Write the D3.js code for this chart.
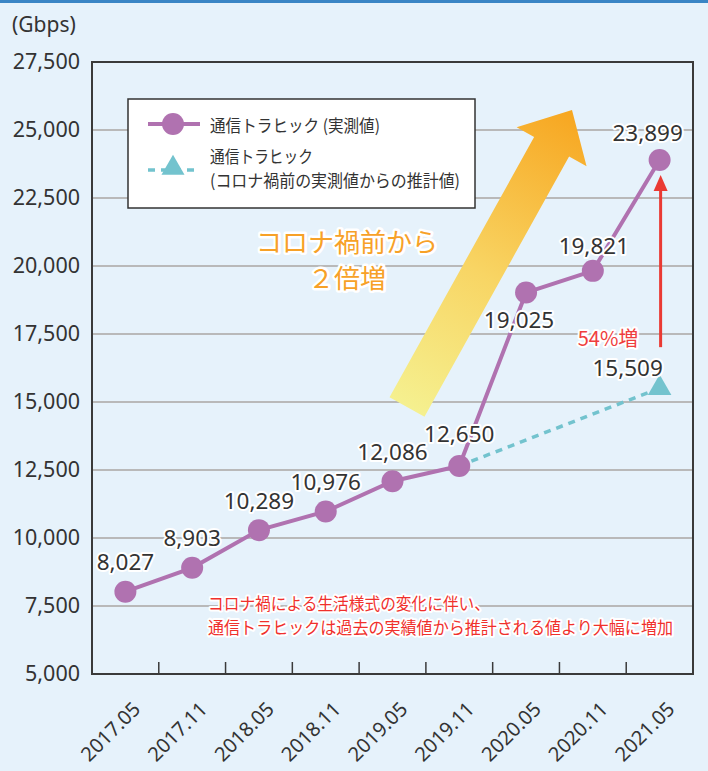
<!DOCTYPE html>
<html>
<head>
<meta charset="utf-8">
<script src="https://cdn.jsdelivr.net/npm/d3@7"></script>
<style>
  body { margin: 0; background: #e6f2fb; }
  svg { display: block; }
  text { font-family: "Noto Sans", "Noto Sans CJK JP", sans-serif; }
  .jp { font-family: "Noto Sans CJK JP", sans-serif; }
</style>
</head>
<body>
<script>
// data
const periods = ["2017.05", "2017.11", "2018.05", "2018.11", "2019.05", "2019.11", "2020.05", "2020.11", "2021.05"];
const measured = [8027, 8903, 10289, 10976, 12086, 12650, 19025, 19821, 23899];
const estPeriods = ["2019.11", "2021.05"];
const estimated = [12650, 15509];
const yTicks = [5000, 7500, 10000, 12500, 15000, 17500, 20000, 22500, 25000, 27500];

const W = 708, H = 771;
const plotL = 92, plotR = 693, plotT = 62, plotB = 674;

const purple = "#b072b0";
const teal = "#73c3ce";
const red = "#ea3a33";
const ink = "#333";

const svg = d3.select("body").append("svg")
    .attr("width", W)
    .attr("height", H);

const defs = svg.append("defs");
const grad = defs.append("linearGradient")
    .attr("id", "bigArrow")
    .attr("gradientUnits", "userSpaceOnUse")
    .attr("x1", 407).attr("y1", 407)
    .attr("x2", 572).attr("y2", 110);
grad.append("stop").attr("offset", 0).attr("stop-color", "#f5f08f");
grad.append("stop").attr("offset", 0.45).attr("stop-color", "#f8d564");
grad.append("stop").attr("offset", 1).attr("stop-color", "#f7a620");

// top bar
svg.append("rect").attr("x", 0).attr("y", 0).attr("width", W).attr("height", 3).attr("fill", "#3a85c5");

const x = d3.scaleBand().domain(periods).range([plotL, plotR]);
const cx = (p) => x(p) + x.bandwidth() / 2;
const y = d3.scaleLinear().domain([5000, 27500]).range([plotB, plotT]);

// grid
svg.append("g")
    .selectAll("line")
    .data(yTicks.slice(1, -1))
    .join("line")
    .attr("x1", plotL).attr("x2", plotR)
    .attr("y1", (d) => y(d)).attr("y2", (d) => y(d))
    .attr("stroke", "#b9b9b9")
    .attr("stroke-width", 2);

// y axis labels
const yAxis = svg.append("g")
    .attr("transform", `translate(${plotL},0)`)
    .call(d3.axisLeft(y).tickValues(yTicks).tickFormat(d3.format(",")).tickSize(0).tickPadding(12));
yAxis.select(".domain").remove();
yAxis.selectAll("text")
    .attr("font-size", 21.5)
    .attr("fill", ink)
    .style("font-family", '"Noto Sans", sans-serif');

svg.append("text")
    .attr("x", 12).attr("y", 24)
    .attr("dominant-baseline", "central")
    .attr("font-size", 21)
    .attr("fill", ink)
    .text("(Gbps)");

// frame
svg.append("path")
    .attr("d", `M${plotL},${plotB}V${plotT}H${plotR}V${plotB}Z`)
    .attr("fill", "none")
    .attr("stroke", "#3a3a3a")
    .attr("stroke-width", 2);

// x ticks at band boundaries
svg.append("g")
    .selectAll("line")
    .data(periods.slice(1))
    .join("line")
    .attr("x1", (d) => x(d)).attr("x2", (d) => x(d))
    .attr("y1", plotB).attr("y2", plotB - 12)
    .attr("stroke", "#3a3a3a")
    .attr("stroke-width", 1.5);

// x labels
svg.append("g")
    .selectAll("text")
    .data(periods)
    .join("text")
    .attr("transform", (d) => `translate(${cx(d) + 11},705) rotate(-45)`)
    .attr("text-anchor", "end")
    .attr("dominant-baseline", "central")
    .attr("font-size", 20)
    .attr("fill", ink)
    .text((d) => d);

// big gradient arrow
const T = [407, 407], P = [572, 110];
const len = Math.hypot(P[0] - T[0], P[1] - T[1]);
const u = [(P[0] - T[0]) / len, (P[1] - T[1]) / len];
const n = [-u[1], u[0]];
const B = [P[0] - 42 * u[0], P[1] - 42 * u[1]];
const off = (p, k) => [p[0] + k * n[0], p[1] + k * n[1]];
const arrowPts = [off(T, -20), off(B, -20), off(B, -40), P, off(B, 40), off(B, 20), off(T, 20)];
svg.append("path")
    .attr("d", "M" + arrowPts.map((p) => p.join(",")).join("L") + "Z")
    .attr("fill", "url(#bigArrow)");

// legend
const lg = svg.append("g");
lg.append("rect")
    .attr("x", 128).attr("y", 99)
    .attr("width", 347).attr("height", 109)
    .attr("fill", "#fff")
    .attr("stroke", "#333")
    .attr("stroke-width", 1.5);
lg.append("line")
    .attr("x1", 148).attr("x2", 200).attr("y1", 124).attr("y2", 124)
    .attr("stroke", purple).attr("stroke-width", 4);
lg.append("circle").attr("cx", 173).attr("cy", 124).attr("r", 11).attr("fill", purple);
lg.append("line")
    .attr("x1", 148).attr("x2", 200).attr("y1", 170).attr("y2", 170)
    .attr("stroke", teal).attr("stroke-width", 3.5)
    .attr("stroke-dasharray", "7,6");
lg.append("path")
    .attr("transform", "translate(173,168)")
    .attr("d", d3.symbol(d3.symbolTriangle).size(230)())
    .attr("fill", teal);
const legendText = (t, yy, w) => lg.append("text")
    .attr("class", "jp")
    .attr("x", 210).attr("y", yy)
    .attr("dominant-baseline", "central")
    .attr("font-size", 17)
    .attr("fill", ink)
    .attr("textLength", w)
    .attr("lengthAdjust", "spacingAndGlyphs")
    .text(t);
legendText("通信トラヒック (実測値)", 124, 170);
legendText("通信トラヒック", 155, 103);
legendText("(コロナ禍前の実測値からの推計値)", 179, 250);

// halo helper
const halo = (sel, w) => sel
    .attr("stroke", "#fff")
    .attr("stroke-width", w)
    .attr("stroke-linejoin", "round")
    .attr("paint-order", "stroke");

// orange callout
const orange = svg.append("g")
    .attr("class", "jp")
    .attr("text-anchor", "middle")
    .attr("font-size", 26)
    .attr("fill", "#f7a127");
halo(orange.append("text").attr("x", 347).attr("y", 242).attr("dominant-baseline", "central").text("コロナ禍前から"), 5);
halo(orange.append("text").attr("x", 347).attr("y", 278).attr("dominant-baseline", "central").text("２倍増"), 5);

// estimated dashed line + triangle
const estData = estPeriods.map((p, i) => ({ p, v: estimated[i] }));
svg.append("path")
    .datum(estData)
    .attr("fill", "none")
    .attr("stroke", teal)
    .attr("stroke-width", 3.5)
    .attr("stroke-dasharray", "7,6")
    .attr("d", d3.line().x((d) => cx(d.p)).y((d) => y(d.v)));
svg.append("path")
    .attr("transform", `translate(${cx(estPeriods[1])},${y(estimated[1])})`)
    .attr("d", d3.symbol(d3.symbolTriangle).size(240)())
    .attr("fill", teal);

// measured line + points
const meas = periods.map((p, i) => ({ p, v: measured[i] }));
svg.append("path")
    .datum(meas)
    .attr("fill", "none")
    .attr("stroke", purple)
    .attr("stroke-width", 4)
    .attr("d", d3.line().x((d) => cx(d.p)).y((d) => y(d.v)));
svg.append("g")
    .selectAll("circle")
    .data(meas)
    .join("circle")
    .attr("cx", (d) => cx(d.p))
    .attr("cy", (d) => y(d.v))
    .attr("r", 11)
    .attr("fill", purple);

// red growth arrow
const ax = cx(estPeriods[1]) + 1;
const yTop = y(measured[measured.length - 1]) + 15;
svg.append("line")
    .attr("x1", ax).attr("x2", ax)
    .attr("y1", y(estimated[1]) - 41).attr("y2", yTop + 12)
    .attr("stroke", red).attr("stroke-width", 3);
svg.append("path")
    .attr("d", `M${ax},${yTop}L${ax - 7},${yTop + 16}L${ax + 7},${yTop + 16}Z`)
    .attr("fill", red);
halo(svg.append("text")
    .attr("class", "jp")
    .attr("x", 608).attr("y", 337)
    .attr("text-anchor", "middle")
    .attr("dominant-baseline", "central")
    .attr("font-size", 20)
    .attr("fill", "#ef3e3e")
    .text("54%増"), 4);

// value labels
const labelOff = { "2019.11": [0, -32], "2020.05": [-7, 27], "2020.11": [1, -25], "2021.05": [-12, -27] };
const fmt = d3.format(",");
halo(svg.append("g")
    .selectAll("text")
    .data(meas)
    .join("text")
    .attr("x", (d) => cx(d.p) + (labelOff[d.p] || [0, -30])[0])
    .attr("y", (d) => y(d.v) + (labelOff[d.p] || [0, -30])[1])
    .attr("text-anchor", "middle")
    .attr("dominant-baseline", "central")
    .attr("font-size", 22.5)
    .attr("fill", ink)
    .text((d) => fmt(d.v)), 4);
halo(svg.append("text")
    .attr("x", cx(estPeriods[1]) - 32)
    .attr("y", y(estimated[1]) - 21)
    .attr("text-anchor", "middle")
    .attr("dominant-baseline", "central")
    .attr("font-size", 22.5)
    .attr("fill", ink)
    .text(fmt(estimated[1])), 4);

// red note
const note = svg.append("g")
    .attr("class", "jp")
    .attr("font-size", 17)
    .attr("fill", "#f0302c");
halo(note.append("text").attr("x", 208).attr("y", 603).attr("dominant-baseline", "central")
    .attr("textLength", 282).attr("lengthAdjust", "spacingAndGlyphs")
    .text("コロナ禍による生活様式の変化に伴い、"), 4);
halo(note.append("text").attr("x", 208).attr("y", 627).attr("dominant-baseline", "central")
    .attr("textLength", 465).attr("lengthAdjust", "spacingAndGlyphs")
    .text("通信トラヒックは過去の実績値から推計される値より大幅に増加"), 4);
</script>
</body>
</html>
